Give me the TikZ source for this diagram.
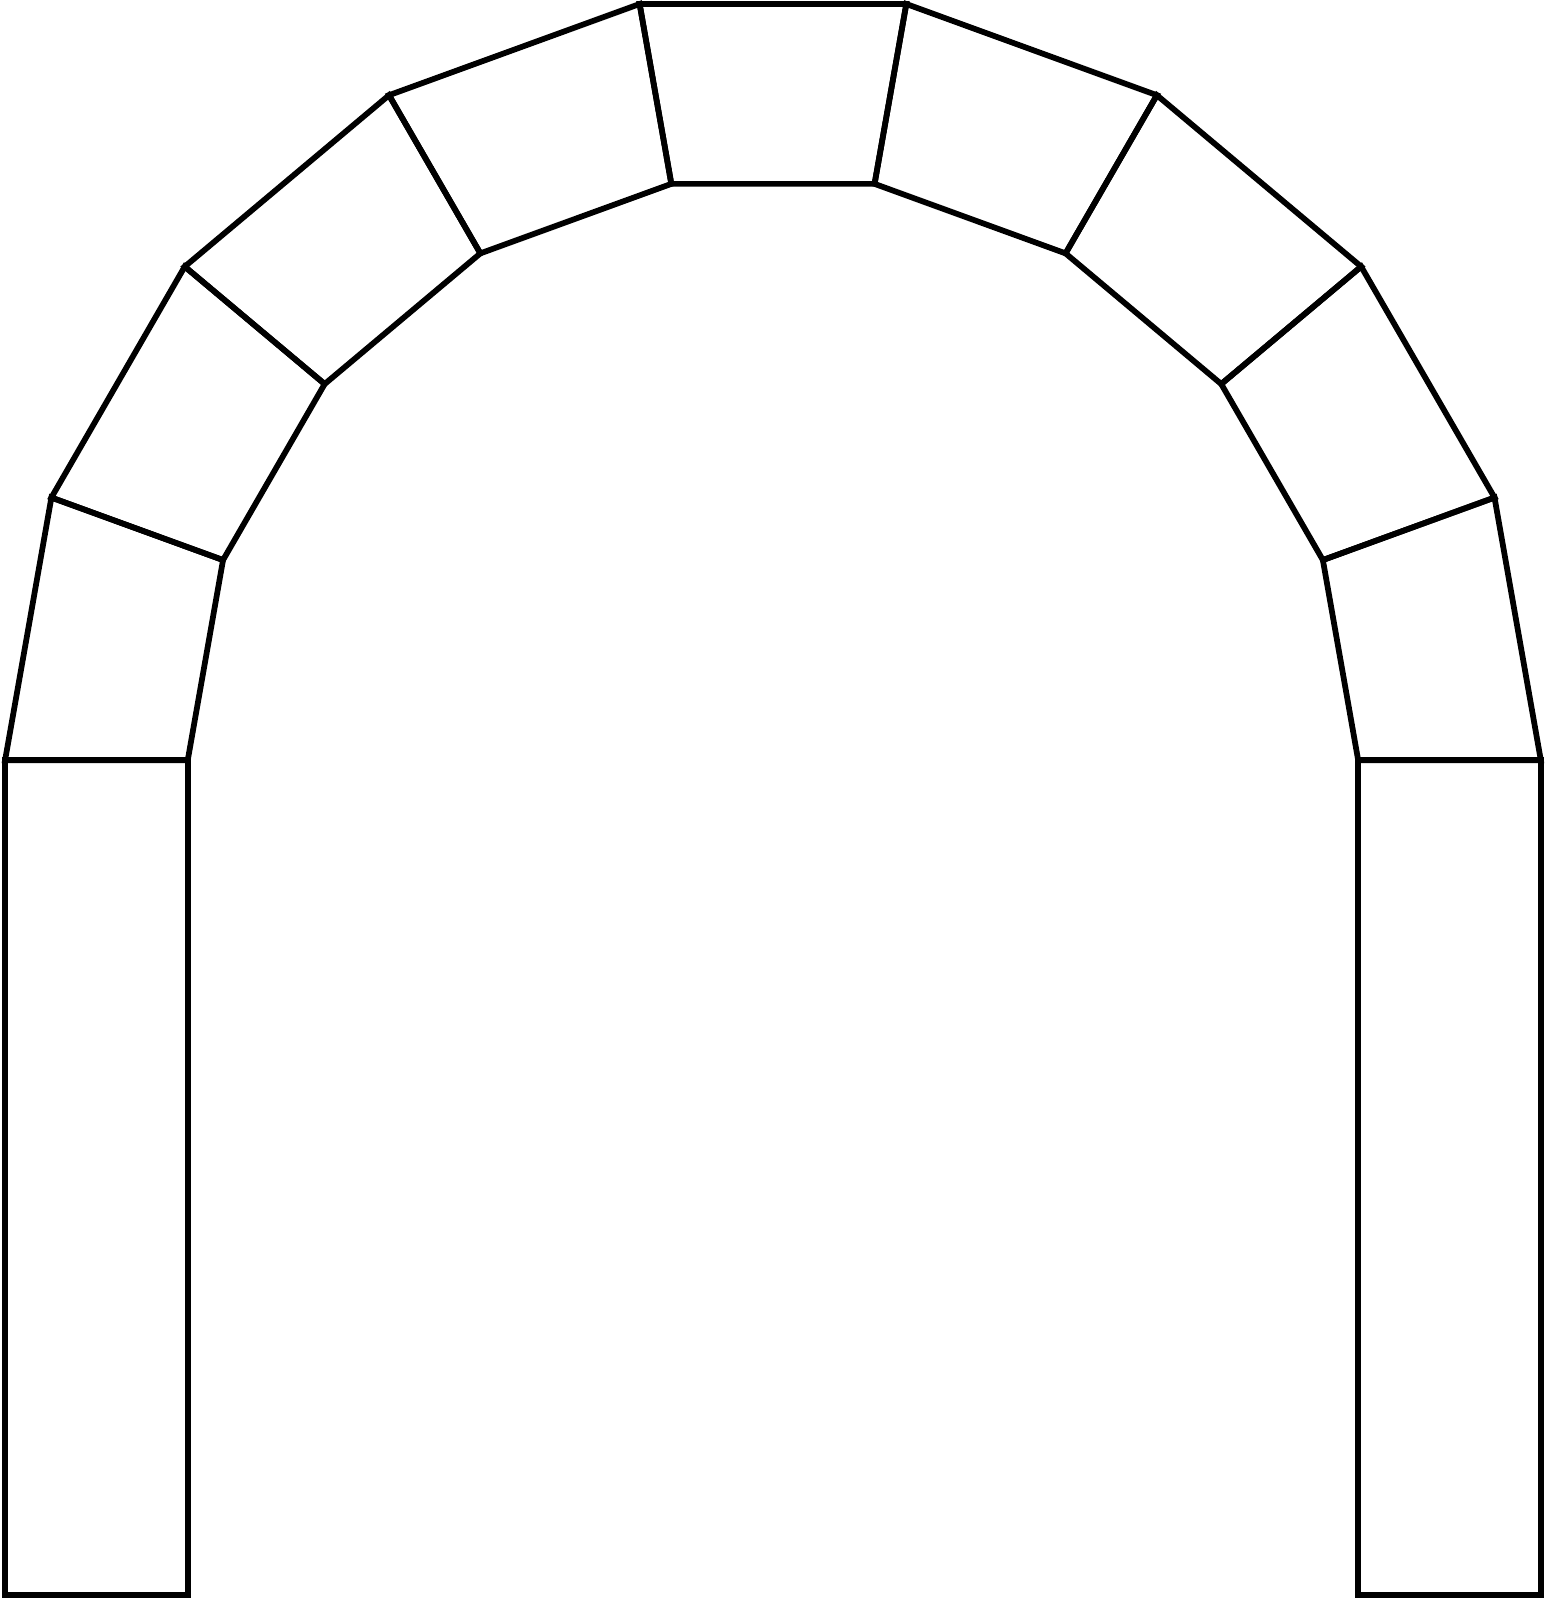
\documentclass[tikz,border=0pt]{standalone}
\usepackage{tikz}
\tikzset{stone/.style={line width=1.6pt, line join=miter}}

\begin{document}
\begin{tikzpicture}
			\useasboundingbox (-7.575,-8.23) rectangle (7.565,7.45);
			% voussoirs
			\foreach \a in {0,20,...,160}
				\draw[stone] (\a:7.525)--(\a+20:7.525)--(\a+20:5.735)--(\a:5.735)--cycle;
			% piers
			\draw[stone] (-7.525,0) rectangle (-5.735,-8.18);
			\draw[stone] (5.735,0) rectangle (7.525,-8.18);
		\end{tikzpicture}
\end{document}
